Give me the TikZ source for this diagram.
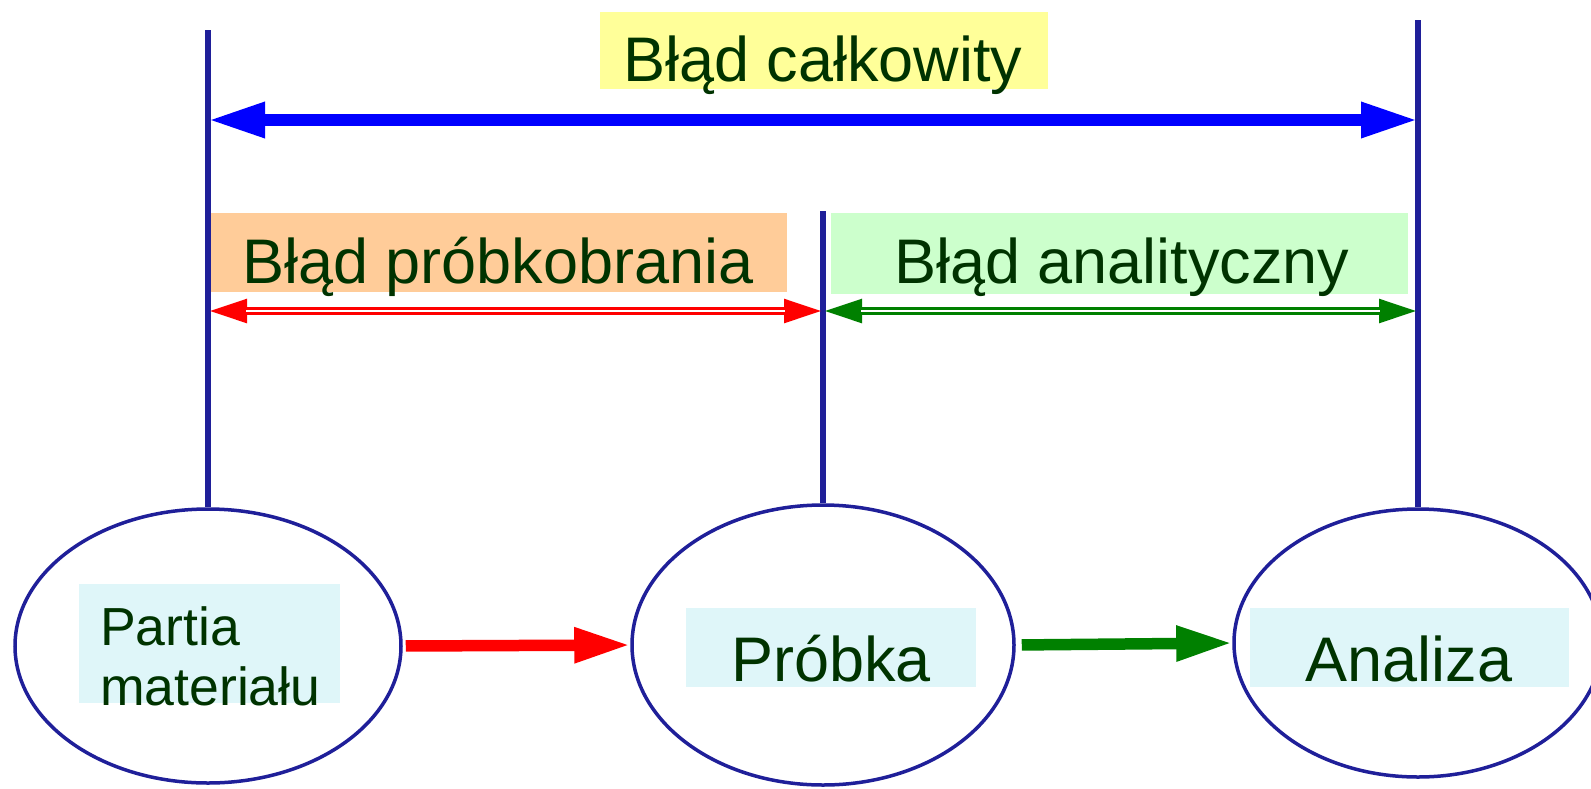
\documentclass[tikz,border=0pt]{standalone}
\usepackage{fontspec}
\setmainfont{Liberation Sans}
\usetikzlibrary{arrows.meta,shapes.geometric}
\definecolor{navy}{RGB}{31,31,153}
\definecolor{txtgreen}{RGB}{0,51,0}
\definecolor{yel}{RGB}{255,255,153}
\definecolor{ora}{RGB}{255,204,153}
\definecolor{lgr}{RGB}{204,255,204}
\definecolor{cya}{RGB}{223,246,249}
\definecolor{dgreen}{RGB}{0,128,0}
\definecolor{bblue}{RGB}{0,0,255}
\begin{document}
\begin{tikzpicture}[x=0.5pt,y=-0.5pt,
  vline/.style={navy, line width=2.75pt},
  oval/.style={ellipse, draw=navy, line width=1.75pt, inner sep=0pt},
  box/.style={inner sep=0pt, outer sep=0pt, draw=none},
  lbl/.style={inner sep=0pt, outer sep=0pt, text=txtgreen, font=\fontsize{31.5}{37}\selectfont},
  small/.style={inner sep=0pt, outer sep=0pt, text=txtgreen, align=left, font=\fontsize{26.8}{30}\selectfont},
  bigarrow/.style={line width=6pt, {Triangle[length=28.5pt,width=16.5pt]}-{Triangle[length=28.5pt,width=16.5pt]}},
  dblarrow/.style={line width=4pt, {Triangle[length=19.5pt,width=11pt]}-{Triangle[length=19.5pt,width=11pt]}},
  dblgap/.style={white, line width=1pt, shorten <=19pt, shorten >=19pt},
  flowarrow/.style={line width=5.75pt, -{Triangle[length=28pt,width=16.5pt]}}
]
\clip (0,0) rectangle (1591,788);
\fill[white] (0,0) rectangle (1591,788);

% coloured label boxes
\node[box, fill=yel, minimum width=224pt, minimum height=38.5pt] (ybox) at (824,50.5) {};
\node[box, fill=ora, minimum width=289pt, minimum height=39.5pt] (obox) at (498,252.5) {};
\node[box, fill=lgr, minimum width=288.5pt, minimum height=40.5pt] (gbox) at (1119.5,253.5) {};

% ellipses
\node[oval, minimum width=193pt, minimum height=137pt] (e1) at (208,646) {};
\node[oval, minimum width=191pt, minimum height=140pt] (e2) at (823,645) {};
\node[oval, minimum width=184pt, minimum height=134pt] (e3) at (1418,643) {};

% inner boxes
\node[box, fill=cya, minimum width=130.5pt, minimum height=59.5pt] (pbox) at (209.5,643.5) {};
\node[box, fill=cya, minimum width=145pt, minimum height=39.5pt] (sbox) at (831,647.5) {};
\node[box, fill=cya, minimum width=159.5pt, minimum height=39.5pt] (abox) at (1409.5,647.5) {};

% vertical lines
\coordinate (v1top) at (208,30);
\coordinate (v2top) at (823,211);
\coordinate (v3top) at (1418,20);
\draw[vline] (v1top) -- (e1.north);
\draw[vline] (v2top) -- (e2.north);
\draw[vline] (v3top) -- (e3.north);

% total error arrow
\coordinate (b1) at (208,120);
\coordinate (b2) at (1418,120);
\draw[bigarrow, bblue] (b1) -- (b2);

% double arrows
\coordinate (r1) at (208,311);
\coordinate (r2) at (823,311);
\coordinate (g2) at (1418,311);
\draw[dblarrow, red] (r1) -- (r2);
\draw[dblgap] (r1) -- (r2);
\draw[dblarrow, dgreen] (r2) -- (g2);
\draw[dblgap] (r2) -- (g2);

% flow arrows
\draw[flowarrow, red, shorten <=1.5pt] (e1.east) -- (e2.west);
\draw[flowarrow, dgreen, shorten <=3pt] (e2.east) -- (e3.west);

% texts
\node[lbl, anchor=base] (t1) at (823,81) {Błąd całkowity};
\node[lbl, anchor=base] (t2) at (498,283) {Błąd próbkobrania};
\node[lbl, anchor=base] (t3) at (1122,283) {Błąd analityczny};
\node[small, anchor=base west] (t4) at (100,705) {Partia\\materiału};
\node[lbl, anchor=base] (t5) at (831,681) {Próbka};
\node[lbl, anchor=base] (t6) at (1409,681) {Analiza};
\end{tikzpicture}
\end{document}
